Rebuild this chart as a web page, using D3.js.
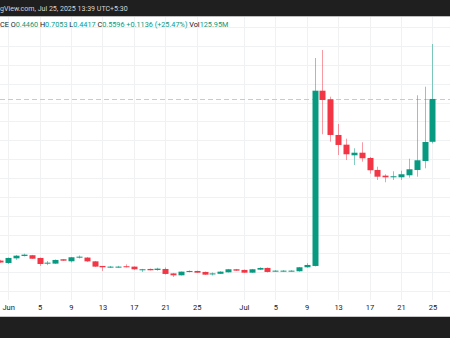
<!DOCTYPE html>
<html>
<head>
<meta charset="utf-8">
<script src="https://cdn.jsdelivr.net/npm/d3@7"></script>
<style>
  html, body { margin: 0; padding: 0; background: #ffffff; }
  svg { display: block; }
  text { font-family: Roboto, "Noto Sans", "DejaVu Sans", sans-serif; }
</style>
</head>
<body>
<svg id="chart" width="450" height="338"></svg>
<script>
// Daily OHLC, 31 May – 25 Jul 2025
const dates = [
  "2025-05-31","2025-06-01","2025-06-02","2025-06-03","2025-06-04","2025-06-05","2025-06-06","2025-06-07",
  "2025-06-08","2025-06-09","2025-06-10","2025-06-11","2025-06-12","2025-06-13","2025-06-14","2025-06-15",
  "2025-06-16","2025-06-17","2025-06-18","2025-06-19","2025-06-20","2025-06-21","2025-06-22","2025-06-23",
  "2025-06-24","2025-06-25","2025-06-26","2025-06-27","2025-06-28","2025-06-29","2025-06-30","2025-07-01",
  "2025-07-02","2025-07-03","2025-07-04","2025-07-05","2025-07-06","2025-07-07","2025-07-08","2025-07-09",
  "2025-07-10","2025-07-11","2025-07-12","2025-07-13","2025-07-14","2025-07-15","2025-07-16","2025-07-17",
  "2025-07-18","2025-07-19","2025-07-20","2025-07-21","2025-07-22","2025-07-23","2025-07-24","2025-07-25"
];
const open = [
  0.1310,0.1247,0.1370,0.1433,0.1452,0.1380,0.1240,0.1230,
  0.1345,0.1292,0.1390,0.1390,0.1290,0.1168,0.1133,0.1135,
  0.1160,0.1150,0.1070,0.1088,0.1062,0.1088,0.0970,0.0920,
  0.1009,0.1035,0.1009,0.0956,0.0960,0.1000,0.1080,0.1062,
  0.0990,0.1070,0.1115,0.1027,0.1030,0.1027,0.1027,0.1133,
  0.1168,0.5815,0.5587,0.4641,0.4384,0.4102,0.4171,0.4031,
  0.3713,0.3562,0.3519,0.3519,0.3572,0.3713,0.3951,0.4460
];
const high = [
  0.1330,0.1390,0.1460,0.1494,0.1460,0.1390,0.1300,0.1340,
  0.1350,0.1406,0.1446,0.1406,0.1300,0.1168,0.1168,0.1170,
  0.1210,0.1155,0.1090,0.1100,0.1120,0.1128,0.0982,0.1020,
  0.1050,0.1043,0.1020,0.0995,0.1027,0.1088,0.1088,0.1075,
  0.1088,0.1133,0.1128,0.1054,0.1057,0.1054,0.1141,0.1240,
  0.6682,0.6894,0.5656,0.4932,0.4543,0.4288,0.4447,0.4057,
  0.3800,0.3599,0.3678,0.3694,0.4012,0.5693,0.5921,0.7053
];
const low = [
  0.1250,0.1220,0.1330,0.1420,0.1353,0.1170,0.1190,0.1220,
  0.1300,0.1260,0.1367,0.1274,0.1140,0.1035,0.1115,0.1120,
  0.1130,0.1060,0.1009,0.1050,0.1043,0.0940,0.0876,0.0915,
  0.1000,0.0982,0.0929,0.0915,0.0956,0.0995,0.1035,0.0982,
  0.0982,0.1062,0.0995,0.1017,0.1015,0.1020,0.1017,0.1120,
  0.1155,0.4659,0.4463,0.4110,0.3978,0.3845,0.3933,0.3615,
  0.3448,0.3387,0.3448,0.3448,0.3509,0.3535,0.3758,0.4417
];
const close = [
  0.1260,0.1380,0.1440,0.1467,0.1360,0.1220,0.1255,0.1327,
  0.1308,0.1398,0.1414,0.1290,0.1150,0.1133,0.1150,0.1150,
  0.1140,0.1080,0.1080,0.1054,0.1096,0.0956,0.0920,0.1017,
  0.1035,0.0990,0.0937,0.0970,0.1017,0.1080,0.1043,0.0990,
  0.1080,0.1115,0.1009,0.1043,0.1043,0.1043,0.1133,0.1194,
  0.5815,0.5568,0.4641,0.4376,0.4129,0.4171,0.4023,0.3705,
  0.3535,0.3519,0.3546,0.3599,0.3731,0.3970,0.4455,0.5596
];

// Time-axis labels
const tickDates = ["2025-06-01","2025-06-05","2025-06-09","2025-06-13","2025-06-17","2025-06-21","2025-06-25",
                   "2025-07-01","2025-07-05","2025-07-09","2025-07-13","2025-07-17","2025-07-21","2025-07-25"];
const tickLabels = ["Jun","5","9","13","17","21","25","Jul","5","9","13","17","21","25"];

// Price grid levels
const gridPrices = [0.05,0.10,0.15,0.20,0.25,0.30,0.35,0.40,0.45,0.50,0.55,0.60,0.65,0.70,0.75];

// Header legend
const headerText = "gView.com, Jul 25, 2025 13:39 UTC+5:30";
const legendParts = [
  {t: "CE ", c: "label"},
  {t: "O", c: "label"}, {t: "0.4460 ", c: "value"},
  {t: "H", c: "label"}, {t: "0.7053 ", c: "value"},
  {t: "L", c: "label"}, {t: "0.4417 ", c: "value"},
  {t: "C", c: "label"}, {t: "0.5596 ", c: "value"},
  {t: "+0.1136 (+25.47%) ", c: "value"},
  {t: "Vol", c: "label"}, {t: "125.95M", c: "value"}
];
const lastPrice = 0.5596;

const UP = "#089981", DOWN = "#F23645";
const W = 450, H = 338;
const svg = d3.select("#chart");

const parse = d3.utcParse("%Y-%m-%d");
const candles = dates.map((d, i) => ({
  date: parse(d), o: open[i], h: high[i], l: low[i], c: close[i]
}));

const x = d3.scaleUtc()
  .domain([parse("2025-06-01"), parse("2025-07-25")])
  .range([8.1, 432.4]);
const y = d3.scaleLinear().domain([0, 0.70]).range([310, 46]);

const plotTop = 17, plotBottom = 300;

// Grid
const grid = svg.append("g").attr("shape-rendering", "crispEdges");
grid.selectAll("line.h").data(gridPrices.filter(p => y(p) > plotTop && y(p) < plotBottom))
  .join("line").attr("class", "h")
  .attr("x1", 0).attr("x2", W)
  .attr("y1", p => Math.round(y(p)) + 0.5).attr("y2", p => Math.round(y(p)) + 0.5)
  .attr("stroke", "#f0f1f3");
grid.selectAll("line.v").data(tickDates.map(parse))
  .join("line").attr("class", "v")
  .attr("x1", d => Math.round(x(d)) + 0.5).attr("x2", d => Math.round(x(d)) + 0.5)
  .attr("y1", plotTop).attr("y2", plotBottom)
  .attr("stroke", "#f0f1f3");

// Last price line
svg.append("line")
  .attr("x1", 0).attr("x2", W)
  .attr("y1", Math.round(y(lastPrice)) + 0.5).attr("y2", Math.round(y(lastPrice)) + 0.5)
  .attr("stroke", "#a6dccf")
  .attr("stroke-dasharray", "5,3");

// Candles
const bw = 6;
const cg = svg.append("g").selectAll("g").data(candles).join("g");
cg.append("line")
  .attr("x1", d => Math.round(x(d.date)) + 0.5)
  .attr("x2", d => Math.round(x(d.date)) + 0.5)
  .attr("y1", d => y(d.h)).attr("y2", d => y(d.l))
  .attr("stroke", d => d.c >= d.o ? UP : DOWN)
  .attr("stroke-opacity", 0.5)
  .attr("stroke-width", 1);
cg.append("rect")
  .attr("x", d => Math.round(x(d.date)) + 0.5 - bw / 2)
  .attr("width", bw)
  .attr("y", d => y(Math.max(d.o, d.c)))
  .attr("height", d => Math.max(1, Math.abs(y(d.o) - y(d.c))))
  .attr("fill", d => d.c >= d.o ? UP : DOWN);

// Time axis
const axis = d3.axisBottom(x)
  .tickValues(tickDates.map(parse))
  .tickFormat((d, i) => tickLabels[i])
  .tickSize(0).tickPadding(0);
const ax = svg.append("g").attr("transform", "translate(0,305)").call(axis);
ax.select(".domain").remove();
ax.selectAll("text")
  .attr("dy", "0.71em")
  .attr("font-size", 7.5)
  .attr("font-family", "Roboto, 'Noto Sans', sans-serif")
  .attr("fill", "#131722");

// Top and bottom frame bars
svg.append("rect").attr("x", 0).attr("y", 0).attr("width", W).attr("height", 16).attr("fill", "#1f1f1f");
svg.append("rect").attr("x", 0).attr("y", 16).attr("width", W).attr("height", 1).attr("fill", "#bdbdbd");
svg.append("rect").attr("x", 0).attr("y", 316).attr("width", W).attr("height", 1).attr("fill", "#c8c8c8");
svg.append("rect").attr("x", 0).attr("y", 317).attr("width", W).attr("height", H - 317).attr("fill", "#1f1f1f");

// Header line (fit to its measured width)
const ht = svg.append("text").attr("x", 0).attr("y", 10.5)
  .attr("fill", "#d6d6d6").attr("font-size", 8).text(headerText);
const hw = ht.node().getComputedTextLength();
ht.attr("font-size", 8 * 128 / hw);

// OHLC legend
const lt = svg.append("text").attr("x", 0).attr("y", 26.5).attr("font-size", 7);
lt.selectAll("tspan").data(legendParts).join("tspan")
  .attr("fill", d => d.c === "value" ? UP : "#131722")
  .style("white-space", "pre")
  .text(d => d.t);
const lw = lt.node().getComputedTextLength();
lt.attr("font-size", 7 * 229 / lw);
</script>
</body>
</html>
